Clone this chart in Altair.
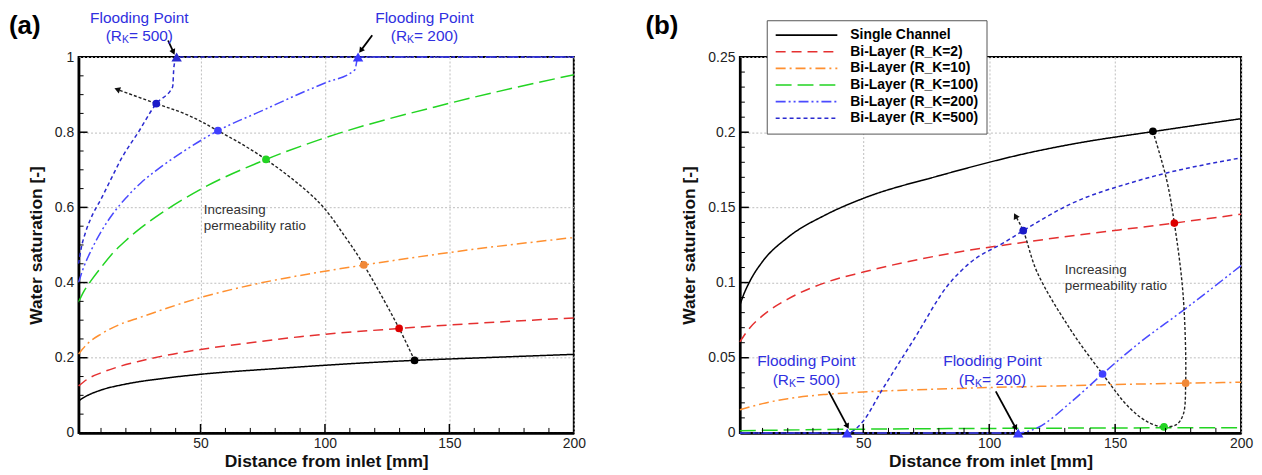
import math
import altair as alt
import pandas as pd

FONT = "Liberation Sans"

SERIES = ["Single Channel", "Bi-Layer (R_K=2)", "Bi-Layer (R_K=10)",
          "Bi-Layer (R_K=100)", "Bi-Layer (R_K=200)", "Bi-Layer (R_K=500)"]
LINE_COLORS = ["#000000", "#e53030", "#ff9030", "#22d422", "#4a4aff", "#2a2ad0"]
LINE_DASHES = [[1, 0], [10, 6], [10, 4, 2, 4], [16, 6], [10, 3, 2, 3, 2, 3], [4, 3]]
DOT_COLORS = ["#000000", "#dd0000", "#f08838", "#22d422", "#4040ff", "#1a1ac8"]
BLUE_TEXT = "#3030e0"

X_DOMAIN = [1, 200]
X_TICKS = [50, 100, 150, 200]
X_MAJOR_IN = [50, 100, 150]
X_MINOR_IN = [10, 20, 30, 40, 60, 70, 80, 90, 110, 120, 130, 140, 160, 170, 180, 190]

# Single channel (same in both panels)
single_x = [1, 2.5, 5, 10, 20, 35, 50, 80, 119, 136, 165, 200]
single_y = [0.085, 0.092, 0.101, 0.114, 0.130, 0.145, 0.156, 0.171, 0.1875, 0.193, 0.2004, 0.209]

# ---------------- panel (a) ----------------
A_YMAX = 1.0
A_YTICKS = [0, 0.2, 0.4, 0.6, 0.8, 1.0]
A_YMAJOR_IN = [0.2, 0.4, 0.6, 0.8]
A_YMINOR_IN = [0.05, 0.1, 0.15, 0.25, 0.3, 0.35, 0.45, 0.5, 0.55, 0.65, 0.7, 0.75, 0.85, 0.9, 0.95]

a_r2_x = [1, 5, 10, 17, 25, 35, 50, 70, 90, 130, 200]
a_r2_y = [0.125, 0.145, 0.160, 0.176, 0.190, 0.205, 0.222, 0.240, 0.256, 0.278, 0.306]
a_r10_x = [1, 5, 10, 17, 26, 37, 50, 70, 90, 116, 150, 200]
a_r10_y = [0.21, 0.24, 0.263, 0.287, 0.308, 0.333, 0.360, 0.393, 0.419, 0.447, 0.480, 0.52]
a_r100_x = [1, 3, 6, 10, 15, 20, 25, 35, 50, 76.3, 100, 150, 200]
a_r100_y = [0.348, 0.375, 0.405, 0.44, 0.48, 0.512, 0.54, 0.588, 0.648, 0.7275, 0.785, 0.877, 0.953]
a_r200_x = [1, 3, 6, 10, 15, 20, 26, 35, 45, 57, 75, 90, 100, 112, 113.3, 200]
a_r200_y = [0.40, 0.44, 0.485, 0.535, 0.585, 0.625, 0.665, 0.712, 0.757, 0.804, 0.858, 0.903,
            0.931, 0.966, 1.0, 1.0]
a_r500_x = [1, 2, 3.8, 6, 10, 14, 18, 25, 32.2, 38.8, 39.3, 40.4, 200]
a_r500_y = [0.45, 0.49, 0.534, 0.572, 0.622, 0.675, 0.7275, 0.80, 0.876, 0.921, 0.974, 1.0, 1.0]

a_dot_x = [136, 129.8, 115.6, 76.3, 57, 32.2]
a_dot_y = [0.193, 0.278, 0.447, 0.7275, 0.804, 0.876]
a_curve_x = [136, 129.8, 115.6, 108.3, 97.6, 76.3, 57, 44.4, 32.2, 16.5]
a_curve_y = [0.193, 0.278, 0.447, 0.52, 0.613, 0.7275, 0.804, 0.847, 0.876, 0.914]

a_flood_x = [40.4, 113.3]
a_flood_y = [1.0, 1.0]
a_flood_color = ["#2a2ad0", "#3a3aff"]
a_flood_label_x = [25.4, 140.0]
a_flood_label_num = ["500", "200"]
a_flood_label_y = [1.1045, 1.0556]
a_arrow_from = [(36.96, 1.044), (119.0, 1.058)]
a_arrow_to = [(39.1, 1.013), (114.4, 1.017)]
a_incr_x = 51.3
a_incr_y = [0.593, 0.550]

# ---------------- panel (b) ----------------
B_YMAX = 0.25
B_YTICKS = [0, 0.05, 0.1, 0.15, 0.2, 0.25]
B_YMAJOR_IN = [0.05, 0.1, 0.15, 0.2]
B_YMINOR_IN = [0.01, 0.02, 0.03, 0.04, 0.06, 0.07, 0.08, 0.09, 0.11, 0.12, 0.13, 0.14,
               0.16, 0.17, 0.18, 0.19, 0.21, 0.22, 0.23, 0.24]

b_r2_x = [1, 5, 10, 20, 35, 50, 80, 119, 173.5, 200]
b_r2_y = [0.0606, 0.070, 0.078, 0.089, 0.100, 0.107, 0.118, 0.128, 0.1396, 0.1455]
b_r10_x = [1, 10, 20, 35, 50, 80, 120, 178, 200]
b_r10_y = [0.0154, 0.0195, 0.0228, 0.0256, 0.0272, 0.0292, 0.0310, 0.0331, 0.0337]
b_r100_x = [1, 50, 100, 150, 200]
b_r100_y = [0.0015, 0.0025, 0.003, 0.0033, 0.0035]
b_r200_x = [1, 111.5, 119, 132, 145, 158.5, 178, 200]
b_r200_y = [0.0, 0.0, 0.0033, 0.0198, 0.0392, 0.0584, 0.0827, 0.1113]
b_r500_x = [1, 43.6, 49.9, 57.1, 70.3, 83.5, 92.7, 105.8, 113.5, 132, 158.5, 200]
b_r500_y = [0.0, 0.0, 0.0077, 0.0276, 0.0628, 0.098, 0.1136, 0.1265, 0.1345, 0.152, 0.1675, 0.183]

b_dot_x = [165, 173.5, 178, 169.4, 145, 113.5]
b_dot_y = [0.2006, 0.1396, 0.0331, 0.004, 0.0392, 0.1345]
b_curve_x = [165, 170.4, 173.5, 177, 178, 177, 174.3, 169.4, 163.7, 155.8, 145, 132, 119, 113.5, 110.4]
b_curve_y = [0.2006, 0.1687, 0.1396, 0.0915, 0.0331, 0.0121, 0.0055, 0.004, 0.0066, 0.0165,
             0.0392, 0.0694, 0.107, 0.1345, 0.1444]

b_flood_x = [43.6, 111.5]
b_flood_y = [0.0, 0.0]
b_flood_color = ["#3a3aff", "#3a3aff"]
b_flood_label_x = [27.4, 101.3]
b_flood_label_num = ["500", "200"]
b_flood_label_y = [0.048, 0.0354]
b_arrow_from = [(36.3, 0.0276), (102.6, 0.0276)]
b_arrow_to = [(43.7, 0.0044), (110.5, 0.0033)]
b_incr_x = 130.0
b_incr_y = [0.1085, 0.0976]

X_TITLE = "Distance from inlet [mm]"
Y_TITLE = "Water saturation [-]"


def heading(kx, ky, x0, y0, x1, y1):
    dx = (x1 - x0) * kx
    dy_screen = -(y1 - y0) * ky
    return (math.degrees(math.atan2(dx, -dy_screen)) + 360) % 360


def build_panel(tag, tag_dx, W, H, ymax, yticks, ymajor_in, yminor_in, series_xy,
                dot_x, dot_y, curve_x, curve_y, flood_x, flood_y, flood_color,
                flood_label_x, flood_label_num, flood_label_y, arrow_from, arrow_to,
                incr_x, incr_y, show_legend, ghost_top):
    kx = W / (X_DOMAIN[1] - X_DOMAIN[0])
    ky = H / ymax
    xs = alt.Scale(domain=X_DOMAIN, nice=False, zero=False)
    ys = alt.Scale(domain=[0, ymax], nice=False, zero=False)

    xaxis = alt.Axis(values=X_TICKS, labelFlush=False, labelOverlap=False, labelPadding=4,
                     titlePadding=2, format="d", grid=True, ticks=False, title=X_TITLE)
    yaxis = alt.Axis(values=yticks, labelFlush=False, labelOverlap=False, labelPadding=5,
                     titlePadding=9, format=".2~f", grid=True, ticks=False, title=Y_TITLE)

    def X(field="x"):
        return alt.X(f"{field}:Q", scale=xs, axis=xaxis, title=X_TITLE)

    def Y(field="y"):
        return alt.Y(f"{field}:Q", scale=ys, axis=yaxis, title=Y_TITLE)

    rows = []
    for name, (xx, yy) in zip(SERIES, series_xy):
        for x, y in zip(xx, yy):
            rows.append({"series": name, "x": x, "y": y})
    df = pd.DataFrame(rows)

    if show_legend:
        leg = alt.Legend(title=None, orient="none", legendX=27, legendY=-37,
                         symbolType="stroke", symbolSize=3844, symbolStrokeWidth=1.6,
                         clipHeight=14,
                         labelFontSize=14, labelFontWeight="bold", labelFont=FONT,
                         labelColor="black", padding=8, rowPadding=2.7, labelOffset=12,
                         strokeColor="#555555", fillColor="white", labelLimit=300,
                         symbolOpacity=1)
    else:
        leg = None

    lines = alt.Chart(df).mark_line(strokeWidth=1.5, interpolate="monotone").encode(
        x=X(), y=Y(),
        color=alt.Color("series:N", scale=alt.Scale(domain=SERIES, range=LINE_COLORS), legend=leg),
        strokeDash=alt.StrokeDash("series:N", scale=alt.Scale(domain=SERIES, range=LINE_DASHES), legend=leg),
    )

    cdf = pd.DataFrame({"x": curve_x, "y": curve_y, "i": list(range(len(curve_x)))})
    curve = alt.Chart(cdf).mark_line(color="#222222", strokeWidth=1.4, strokeDash=[3, 2],
                                     interpolate="catmull-rom").encode(
        x=X(), y=Y(), order="i:Q")

    head_df = pd.DataFrame({"x": [curve_x[-1]], "y": [curve_y[-1]],
                            "ang": [heading(kx, ky, curve_x[-2], curve_y[-2], curve_x[-1], curve_y[-1])]})
    curve_head = alt.Chart(head_df).mark_point(shape="triangle-up", filled=True, size=45,
                                               color="#111111", opacity=1).encode(
        x=X(), y=Y(), angle=alt.Angle("ang:Q", scale=None))

    ddf = pd.DataFrame({"x": dot_x, "y": dot_y, "c": DOT_COLORS})
    dots = alt.Chart(ddf).mark_circle(size=60, opacity=1).encode(
        x=X(), y=Y(), color=alt.Color("c:N", scale=None, legend=None))

    fdf = pd.DataFrame({"x": flood_x, "y": flood_y, "c": flood_color})
    floods = alt.Chart(fdf).mark_point(shape="triangle-up", filled=True, size=110, opacity=1).encode(
        x=X(), y=Y(), color=alt.Color("c:N", scale=None, legend=None))

    arows = []
    heads = []
    for k, ((x0, y0), (x1, y1)) in enumerate(zip(arrow_from, arrow_to)):
        arows.append({"k": k, "x": x0, "y": y0})
        arows.append({"k": k, "x": x1, "y": y1})
        heads.append({"x": x1, "y": y1, "ang": heading(kx, ky, x0, y0, x1, y1)})
    arrows = alt.Chart(pd.DataFrame(arows)).mark_line(color="black", strokeWidth=1.8).encode(
        x=X(), y=Y(), detail="k:N")
    arrow_heads = alt.Chart(pd.DataFrame(heads)).mark_point(
        shape="triangle-up", filled=True, size=40, color="black", opacity=1).encode(
        x=X(), y=Y(), angle=alt.Angle("ang:Q", scale=None))

    l1 = pd.DataFrame({"x": flood_label_x, "y": [flood_label_y[0]] * 2, "t": ["Flooding Point"] * 2})
    l2 = pd.DataFrame({"x": flood_label_x, "y": [flood_label_y[1]] * 2,
                       "a": ["(R"] * 2, "k": ["K"] * 2, "b": ["= " + n + ")" for n in flood_label_num]})
    txt1 = alt.Chart(l1).mark_text(fontSize=15.5, color=BLUE_TEXT, align="center", baseline="middle").encode(
        x=X(), y=Y(), text="t:N")
    txt2a = alt.Chart(l2).mark_text(fontSize=15.5, color=BLUE_TEXT, align="right", baseline="middle", dx=-17.5).encode(
        x=X(), y=Y(), text="a:N")
    txt2k = alt.Chart(l2).mark_text(fontSize=10.5, color=BLUE_TEXT, align="left", baseline="middle", dx=-17.5, dy=4).encode(
        x=X(), y=Y(), text="k:N")
    txt2b = alt.Chart(l2).mark_text(fontSize=15.5, color=BLUE_TEXT, align="left", baseline="middle", dx=-10.5).encode(
        x=X(), y=Y(), text="b:N")

    idf = pd.DataFrame({"x": [incr_x] * 2, "y": incr_y, "t": ["Increasing", "permeability ratio"]})
    incr = alt.Chart(idf).mark_text(fontSize=13.5, color="#333333", align="left", baseline="middle").encode(
        x=X(), y=Y(), text="t:N")

    tagtxt = alt.Chart(pd.DataFrame({"t": [tag]})).mark_text(
        fontSize=26, fontWeight="bold", color="black", align="left", baseline="middle").encode(
        text="t:N", x=alt.value(tag_dx), y=alt.value(-31))

    ghost = alt.Chart(pd.DataFrame({"t": ["Flooding Point"]})).mark_text(
        fontSize=15.5, opacity=0, baseline="middle").encode(
        text="t:N", x=alt.value(200), y=alt.value(ghost_top))

    tx_major = alt.Chart(pd.DataFrame({"x": X_MAJOR_IN})).mark_rule(color="black", strokeWidth=1.5).encode(
        x=X(), y=alt.value(H), y2=alt.value(H - 9))
    tx_minor = alt.Chart(pd.DataFrame({"x": X_MINOR_IN})).mark_rule(color="black", strokeWidth=1).encode(
        x=X(), y=alt.value(H), y2=alt.value(H - 5))
    ty_major = alt.Chart(pd.DataFrame({"y": ymajor_in})).mark_rule(color="black", strokeWidth=1.5).encode(
        y=Y(), x=alt.value(0), x2=alt.value(9))
    ty_minor = alt.Chart(pd.DataFrame({"y": yminor_in})).mark_rule(color="black", strokeWidth=1).encode(
        y=Y(), x=alt.value(0), x2=alt.value(5))

    return alt.layer(lines, curve, curve_head, dots, floods, arrows, arrow_heads,
                     txt1, txt2a, txt2k, txt2b, incr, tx_major, tx_minor, ty_major, ty_minor,
                     tagtxt, ghost).properties(width=W, height=H)


pa = build_panel("(a)", -70, 498, 378, A_YMAX, A_YTICKS, A_YMAJOR_IN, A_YMINOR_IN,
                 [(single_x, single_y), (a_r2_x, a_r2_y), (a_r10_x, a_r10_y),
                  (a_r100_x, a_r100_y), (a_r200_x, a_r200_y), (a_r500_x, a_r500_y)],
                 a_dot_x, a_dot_y, a_curve_x, a_curve_y, a_flood_x, a_flood_y, a_flood_color,
                 a_flood_label_x, a_flood_label_num, a_flood_label_y, a_arrow_from, a_arrow_to,
                 a_incr_x, a_incr_y, False, -39.5)

pb = build_panel("(b)", -95, 504, 378, B_YMAX, B_YTICKS, B_YMAJOR_IN, B_YMINOR_IN,
                 [(single_x, single_y), (b_r2_x, b_r2_y), (b_r10_x, b_r10_y),
                  (b_r100_x, b_r100_y), (b_r200_x, b_r200_y), (b_r500_x, b_r500_y)],
                 b_dot_x, b_dot_y, b_curve_x, b_curve_y, b_flood_x, b_flood_y, b_flood_color,
                 b_flood_label_x, b_flood_label_num, b_flood_label_y, b_arrow_from, b_arrow_to,
                 b_incr_x, b_incr_y, True, -39.5)

chart = alt.hconcat(pa, pb, spacing=58).resolve_scale(
    color="independent", strokeDash="independent"
).resolve_legend(
    color="independent", strokeDash="independent"
).properties(
    padding={"left": 0, "top": 0, "right": 0, "bottom": 2}
).configure(
    font=FONT
).configure_view(
    stroke="black", strokeWidth=2
).configure_axis(
    labelFont=FONT, labelFontSize=14, labelColor="#222222",
    titleFont=FONT, titleFontSize=17.5, titleFontWeight="bold", titleColor="#111111",
    gridColor="#bdbdbd", gridDash=[2, 2], gridWidth=1, gridOpacity=1,
    domain=True, domainColor="black", domainWidth=2.5
).configure_text(font=FONT)

chart.save("out.html", embed_options={"renderer": "svg", "actions": False})
